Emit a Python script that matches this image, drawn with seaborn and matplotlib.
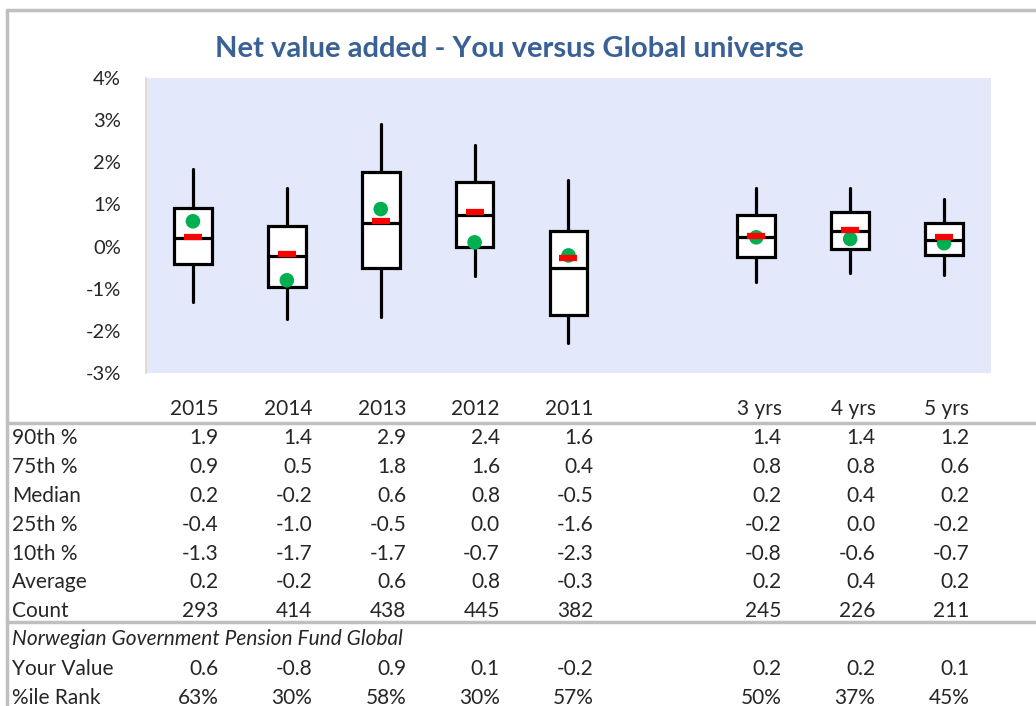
import numpy as np
import pandas as pd
import seaborn as sns
import matplotlib.pyplot as plt
from matplotlib.lines import Line2D
from matplotlib.transforms import blended_transform_factory

# Periods shown, slot 5 is left empty as a gap between single years and multi-year
periods = ['2015', '2014', '2013', '2012', '2011', '3 yrs', '4 yrs', '5 yrs']
slots = [0, 1, 2, 3, 4, 6, 7, 8]

# Box stats as plotted (in %)
p90 = [1.85, 1.39, 2.90, 2.40, 1.57, 1.39, 1.39, 1.14]
p75 = [0.92, 0.49, 1.78, 1.54, 0.38, 0.76, 0.81, 0.57]
p50 = [0.21, -0.22, 0.55, 0.74, -0.52, 0.22, 0.38, 0.16]
p25 = [-0.41, -0.97, -0.51, -0.02, -1.62, -0.25, -0.06, -0.21]
p10 = [-1.31, -1.73, -1.67, -0.71, -2.30, -0.85, -0.62, -0.67]
avg = [0.23, -0.17, 0.61, 0.81, -0.28, 0.24, 0.39, 0.22]
yours = [0.60, -0.80, 0.89, 0.10, -0.21, 0.22, 0.18, 0.08]

# Table values as printed
row_labels = ['90th %', '75th %', 'Median', '25th %', '10th %', 'Average', 'Count']
tbl_p90 = ['1.9', '1.4', '2.9', '2.4', '1.6', '1.4', '1.4', '1.2']
tbl_p75 = ['0.9', '0.5', '1.8', '1.6', '0.4', '0.8', '0.8', '0.6']
tbl_med = ['0.2', '-0.2', '0.6', '0.8', '-0.5', '0.2', '0.4', '0.2']
tbl_p25 = ['-0.4', '-1.0', '-0.5', '0.0', '-1.6', '-0.2', '0.0', '-0.2']
tbl_p10 = ['-1.3', '-1.7', '-1.7', '-0.7', '-2.3', '-0.8', '-0.6', '-0.7']
tbl_avg = ['0.2', '-0.2', '0.6', '0.8', '-0.3', '0.2', '0.4', '0.2']
tbl_count = ['293', '414', '438', '445', '382', '245', '226', '211']
fund_name = 'Norwegian Government Pension Fund Global'
tbl_yours = ['0.6', '-0.8', '0.9', '0.1', '-0.2', '0.2', '0.2', '0.1']
tbl_rank = ['63%', '30%', '58%', '30%', '57%', '50%', '37%', '45%']

sns.set_style('white')
plt.rcParams['font.family'] = ['Lato', 'DejaVu Sans']

fig = plt.figure(figsize=(10.36, 7.06), dpi=100)
ax = fig.add_axes([146 / 1036, 1 - 373 / 706, 845 / 1036, 295 / 706])
ax.set_facecolor('#E3E9FB')

# Boxes from precomputed stats
stats = []
for i in range(len(periods)):
    stats.append(dict(med=p50[i], q1=p25[i], q3=p75[i], whislo=p10[i], whishi=p90[i], fliers=[]))
ax.bxp(stats, positions=slots, widths=0.4, showcaps=False, patch_artist=True,
       boxprops=dict(facecolor='white', edgecolor='black', linewidth=2.3),
       medianprops=dict(color='black', linewidth=2.3),
       whiskerprops=dict(color='black', linewidth=2.3), manage_ticks=False)

df = pd.DataFrame({'slot': slots, 'avg': avg, 'yours': yours})
sns.scatterplot(data=df, x='slot', y='yours', color='#00B050', s=110, edgecolor='none', zorder=4, ax=ax)
sns.scatterplot(data=df, x='slot', y='avg', color='#FF0000', marker='_', s=180, linewidth=4.5, zorder=5, ax=ax)

ax.set_xlim(-0.5, 8.5)
ax.set_ylim(-3, 4)
ax.set_yticks(range(-3, 5))
ax.set_yticklabels([f'{t}%' for t in range(-3, 5)])
ax.set_xticks([])
ax.set_xlabel('')
ax.set_ylabel('')
for s in ['top', 'right', 'bottom']:
    ax.spines[s].set_visible(False)
ax.spines['left'].set_color('#DDD8C0')
ax.spines['left'].set_linewidth(1.2)
ax.tick_params(axis='y', direction='inout', length=10, width=1.2, color='#DDD8C0',
               labelsize=14.5, pad=13)

fig.text(509 / 1036, 1 - 49 / 706, 'Net value added - You versus Global universe',
         ha='center', va='center', fontsize=21, fontweight='bold', color='#3A6196')

# Table below the chart
tr = blended_transform_factory(ax.transData, fig.transFigure)
fs = 15


def fy(py):
    return 1 - py / 706


def put_row(py, values):
    for sl, v in zip(slots, values):
        ax.text(sl + 0.27, fy(py), v, transform=tr, ha='right', va='center', fontsize=fs, clip_on=False)


put_row(409, periods)
rows = [tbl_p90, tbl_p75, tbl_med, tbl_p25, tbl_p10, tbl_avg, tbl_count]
row_y = [438, 467, 496, 525, 554, 582, 611]
for lab, vals, py in zip(row_labels, rows, row_y):
    fig.text(12 / 1036, fy(py), lab, ha='left', va='center', fontsize=fs)
    put_row(py, vals)

fig.text(12 / 1036, fy(639), fund_name, ha='left', va='center', fontsize=fs, style='italic')
fig.text(12 / 1036, fy(669), 'Your Value', ha='left', va='center', fontsize=fs)
put_row(669, tbl_yours)
fig.text(12 / 1036, fy(698), '%ile Rank', ha='left', va='center', fontsize=fs)
put_row(698, tbl_rank)

# Grey frame and table rules
grey = '#BFBFBF'
for py in [423, 622]:
    fig.add_artist(Line2D([7 / 1036, 1], [fy(py), fy(py)], color=grey, lw=2.5, transform=fig.transFigure))
fig.add_artist(Line2D([7 / 1036, 1], [fy(10), fy(10)], color=grey, lw=2.5, transform=fig.transFigure))
fig.add_artist(Line2D([7 / 1036, 7 / 1036], [fy(10), 0], color=grey, lw=2.5, transform=fig.transFigure))

plt.savefig('out.png', dpi=100)
plt.close()
